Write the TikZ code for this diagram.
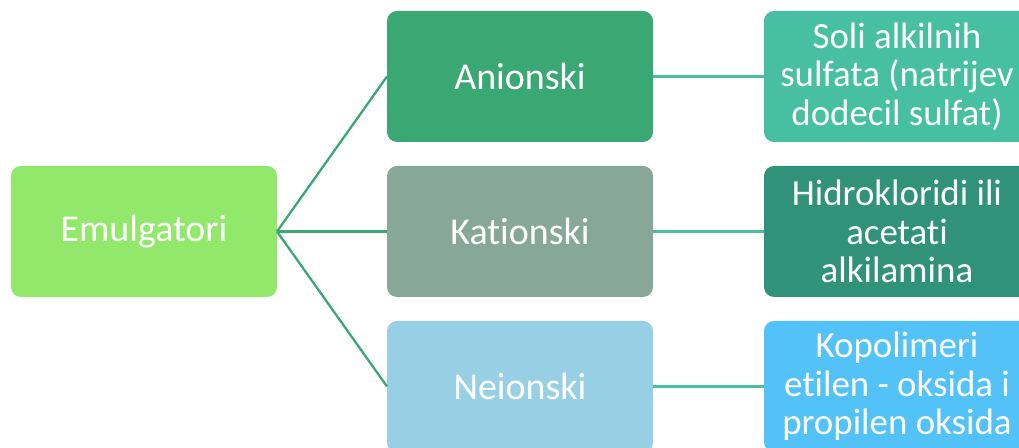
\documentclass[tikz,border=0pt]{standalone}
\usepackage{fontspec}
\setmainfont{Carlito}[Ligatures=NoCommon]
\usepackage{tikz}
\usetikzlibrary{positioning}
\definecolor{rootgreen}{RGB}{146,232,106}
\definecolor{aniongreen}{RGB}{58,168,114}
\definecolor{kationgrey}{RGB}{135,168,152}
\definecolor{neionblue}{RGB}{151,208,228}
\definecolor{saltteal}{RGB}{70,192,160}
\definecolor{aminteal}{RGB}{49,146,122}
\definecolor{polyblue}{RGB}{82,194,248}
\tikzstyle{rootblock} = [rectangle, rounded corners=0.2cm, minimum width=5.32cm,
  minimum height=2.62cm, outer sep=0pt, text centered, text=white, font=\fontsize{21.6pt}{26pt}\selectfont]
\tikzstyle{typeblock} = [rootblock]
\tikzstyle{exampleblock} = [rootblock, align=center, font=\fontsize{21pt}{22pt}\selectfont]
\tikzstyle{branch} = [line width=1.3pt, draw=aniongreen]
\tikzstyle{leaf} = [line width=1.3pt, draw=saltteal]

\begin{document}
\begin{tikzpicture}
  \useasboundingbox (0,0) rectangle (20.38,8.96);
  \node (emul) [rootblock, fill=rootgreen] at (2.88,4.33) {Emulgatori};
  \node (kation) [typeblock, fill=kationgrey, right=2.2cm of emul] {Kationski};
  \node (anion) [typeblock, fill=aniongreen, above=0.48cm of kation] {Anionski};
  \node (neion) [typeblock, fill=neionblue, below=0.48cm of kation] {Neionski};
  % right column, cut off by the page edge
  \node (salt) [exampleblock, fill=saltteal, right=2.22cm of anion]
    {Soli alkilnih\\sulfata (natrijev\\dodecil sulfat)};
  \node (amin) [exampleblock, fill=aminteal, right=2.22cm of kation]
    {Hidrokloridi ili\\acetati\\alkilamina};
  \node (poly) [exampleblock, fill=polyblue, right=2.22cm of neion]
    {Kopolimeri\\etilen - oksida i\\propilen oksida};
  \draw [branch] (emul.east) -- (anion.west);
  \draw [branch] (emul.east) -- (kation.west);
  \draw [branch] (emul.east) -- (neion.west);
  \draw [leaf] (anion) -- (salt);
  \draw [leaf] (kation) -- (amin);
  \draw [leaf] (neion) -- (poly);
\end{tikzpicture}
\end{document}
